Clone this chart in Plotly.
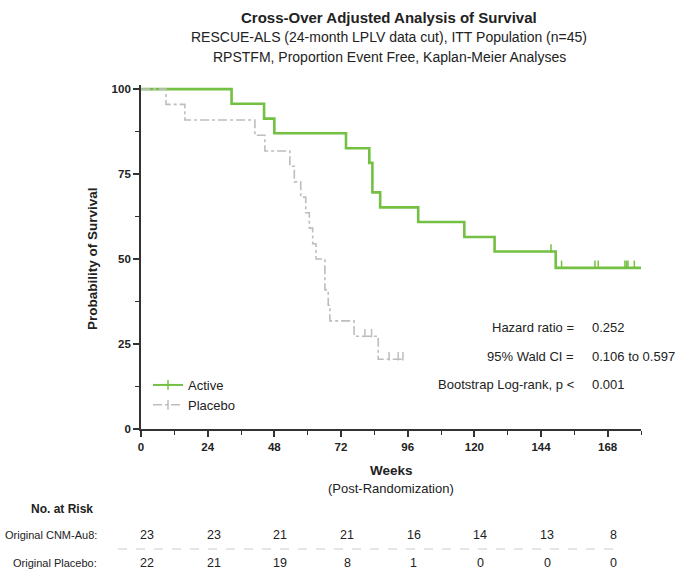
import plotly.graph_objects as go

# Kaplan-Meier step curves (weeks, percent event free)
active_weeks = [0, 32.6, 44.3, 48.0, 73.8, 82.2, 83.3, 86.1, 99.8, 116.4, 127.3, 149.3, 180.0]
active_surv = [100, 95.7, 91.3, 87.0, 82.6, 78.3, 69.6, 65.2, 60.9, 56.5, 52.2, 47.4, 47.4]

placebo_weeks = [0, 9.0, 15.8, 41.0, 44.6, 53.6, 55.2, 57.5, 59.3, 60.6, 61.8, 63.0,
                 66.2, 67.4, 68.0, 76.7, 85.4, 94.3]
placebo_surv = [100, 95.5, 90.9, 86.4, 81.8, 77.3, 72.7, 68.2, 63.6, 59.1, 54.5, 50.0,
                40.9, 36.4, 31.8, 27.3, 20.5, 20.5]

# Censored observations
active_cens_weeks = [147.6, 151.4, 163.4, 164.6, 174.2, 174.8, 175.3, 177.6]
active_cens_surv = [52.2, 47.4, 47.4, 47.4, 47.4, 47.4, 47.4, 47.4]
placebo_cens_weeks = [80.6, 83.0, 89.3, 92.6, 94.3]
placebo_cens_surv = [27.3, 27.3, 20.5, 20.5, 20.5]

# Number at risk table
risk_weeks = [0, 24, 48, 72, 96, 120, 144, 168]
risk_active = [23, 23, 21, 21, 16, 14, 13, 8]
risk_placebo = [22, 21, 19, 8, 1, 0, 0, 0]

stats_labels = ["Hazard ratio =", "95% Wald CI =", "Bootstrap Log-rank, p <"]
stats_values = ["0.252", "0.106 to 0.597", "0.001"]

GREEN = "#74c043"
GREY = "#bdbdbd"
INK = "#222222"
FONT = "Liberation Sans, Arial, sans-serif"

fig = go.Figure()

fig.add_trace(go.Scatter(x=active_weeks, y=active_surv, mode="lines", line_shape="hv",
                         line=dict(color=GREEN, width=2.6), showlegend=False,
                         hoverinfo="skip"))
fig.add_trace(go.Scatter(x=placebo_weeks, y=placebo_surv, mode="lines", line_shape="hv",
                         line=dict(color=GREY, width=1.6, dash="dashdot"), showlegend=False,
                         hoverinfo="skip"))

# censor ticks sit on top of the curve
tick_lift = 0.9
fig.add_trace(go.Scatter(x=active_cens_weeks, y=[v + tick_lift for v in active_cens_surv],
                         mode="markers", showlegend=False, hoverinfo="skip",
                         marker=dict(symbol="line-ns", size=6,
                                     line=dict(color=GREEN, width=1.5))))
fig.add_trace(go.Scatter(x=placebo_cens_weeks, y=[v + tick_lift for v in placebo_cens_surv],
                         mode="markers", showlegend=False, hoverinfo="skip",
                         marker=dict(symbol="line-ns", size=6,
                                     line=dict(color=GREY, width=1.5))))

# legend entries
fig.add_trace(go.Scatter(x=[None], y=[None], mode="lines+markers", name="Active",
                         line=dict(color=GREEN, width=2),
                         marker=dict(symbol="line-ns", size=7, line=dict(color=GREEN, width=1.5))))
fig.add_trace(go.Scatter(x=[None], y=[None], mode="lines+markers", name="Placebo",
                         line=dict(color=GREY, width=1.5, dash="dashdot"),
                         marker=dict(symbol="line-ns", size=7, line=dict(color=GREY, width=1.5))))

annotations = []
# titles
title_lines = [("<b>Cross-Over Adjusted Analysis of Survival</b>", 17, 15),
               ("RESCUE-ALS (24-month LPLV data cut), ITT Population (n=45)", 37, 14),
               ("RPSTFM, Proportion Event Free, Kaplan-Meier Analyses", 57, 14)]
for txt, py, fs in title_lines:
    annotations.append(dict(text=txt, xref="paper", yref="paper",
                            x=(389 - 141) / 500, y=(429 - py) / 344,
                            xanchor="center", yanchor="middle", showarrow=False,
                            font=dict(size=fs, color=INK, family=FONT)))

# axis titles
annotations.append(dict(text="<b>Weeks</b>", xref="paper", yref="paper",
                        x=(391 - 141) / 500, y=(429 - 470) / 344, showarrow=False,
                        xanchor="center", yanchor="middle",
                        font=dict(size=13.5, color=INK, family=FONT)))
annotations.append(dict(text="(Post-Randomization)", xref="paper", yref="paper",
                        x=(391 - 141) / 500, y=(429 - 488) / 344, showarrow=False,
                        xanchor="center", yanchor="middle",
                        font=dict(size=13, color=INK, family=FONT)))
annotations.append(dict(text="<b>Probability of Survival</b>", xref="paper", yref="paper",
                        x=(92 - 141) / 500, y=(429 - 259) / 344, showarrow=False,
                        textangle=-90, xanchor="center", yanchor="middle",
                        font=dict(size=13.5, color=INK, family=FONT)))

# statistics block
for i, (lab, val) in enumerate(zip(stats_labels, stats_values)):
    py = [327, 356, 384][i]
    annotations.append(dict(text=lab, xref="paper", yref="paper",
                            x=(576 - 141) / 500, y=(429 - py) / 344, showarrow=False,
                            xanchor="right", yanchor="middle",
                            font=dict(size=13, color=INK, family=FONT)))
    annotations.append(dict(text=val, xref="paper", yref="paper",
                            x=(590 - 141) / 500, y=(429 - py) / 344, showarrow=False,
                            xanchor="left", yanchor="middle",
                            font=dict(size=13, color=INK, family=FONT)))

# number at risk table
annotations.append(dict(text="<b>No. at Risk</b>", xref="paper", yref="paper",
                        x=(62 - 141) / 500, y=(429 - 509) / 344, showarrow=False,
                        xanchor="center", yanchor="middle",
                        font=dict(size=12, color=INK, family=FONT)))
for lab, counts, py in [("Original CNM-Au8:", risk_active, 535),
                        ("Original Placebo:", risk_placebo, 563)]:
    annotations.append(dict(text=lab, xref="paper", yref="paper",
                            x=(99 - 141) / 500, y=(429 - py) / 344, showarrow=False,
                            xanchor="right", yanchor="middle",
                            font=dict(size=11, color=INK, family=FONT)))
    for wk, n in zip(risk_weeks, counts):
        annotations.append(dict(text=str(n), x=wk, xref="x", yref="paper",
                                y=(429 - py) / 344, showarrow=False, xshift=6,
                                xanchor="center", yanchor="middle",
                                font=dict(size=12.5, color=INK, family=FONT)))

shapes = [dict(type="line", xref="paper", yref="paper",
               x0=(118 - 141) / 500, x1=(622 - 141) / 500,
               y0=(429 - 549) / 344, y1=(429 - 549) / 344,
               line=dict(color="#cccccc", width=1, dash="dash"))]

axis_common = dict(showgrid=False, zeroline=False, showline=True, linecolor="#333333",
                   linewidth=1.8, ticks="outside", ticklen=6, tickwidth=1.6,
                   tickcolor="#333333",
                   tickfont=dict(size=11.5, color=INK, family="Liberation Sans, Arial"))

fig.update_layout(
    width=695, height=579,
    margin=dict(l=141, r=54, t=85, b=150),
    paper_bgcolor="white", plot_bgcolor="white",
    font=dict(family=FONT, color=INK),
    xaxis=dict(range=[0, 180], tickvals=risk_weeks,
               ticktext=[f"<b>{w}</b>" for w in risk_weeks],
               minor=dict(tickvals=[12, 36, 60, 84, 108, 132, 156, 180], ticks="outside",
                          ticklen=4, tickwidth=1.4, tickcolor="#333333"),
               **axis_common),
    yaxis=dict(range=[0, 101.2], tickvals=[0, 25, 50, 75, 100],
               ticktext=["<b>0</b>", "<b>25</b>", "<b>50</b>", "<b>75</b>", "<b>100</b>"],
               minor=dict(tickvals=[12.5, 37.5, 62.5, 87.5], ticks="outside",
                          ticklen=4, tickwidth=1.4, tickcolor="#333333"),
               **axis_common),
    legend=dict(x=(148 - 141) / 500, y=(429 - 370) / 344, xanchor="left", yanchor="top",
                bgcolor="rgba(0,0,0,0)", font=dict(size=13, color=INK, family=FONT),
                itemwidth=30, tracegroupgap=4),
    annotations=annotations,
    shapes=shapes,
)

fig.write_html("out.html")
